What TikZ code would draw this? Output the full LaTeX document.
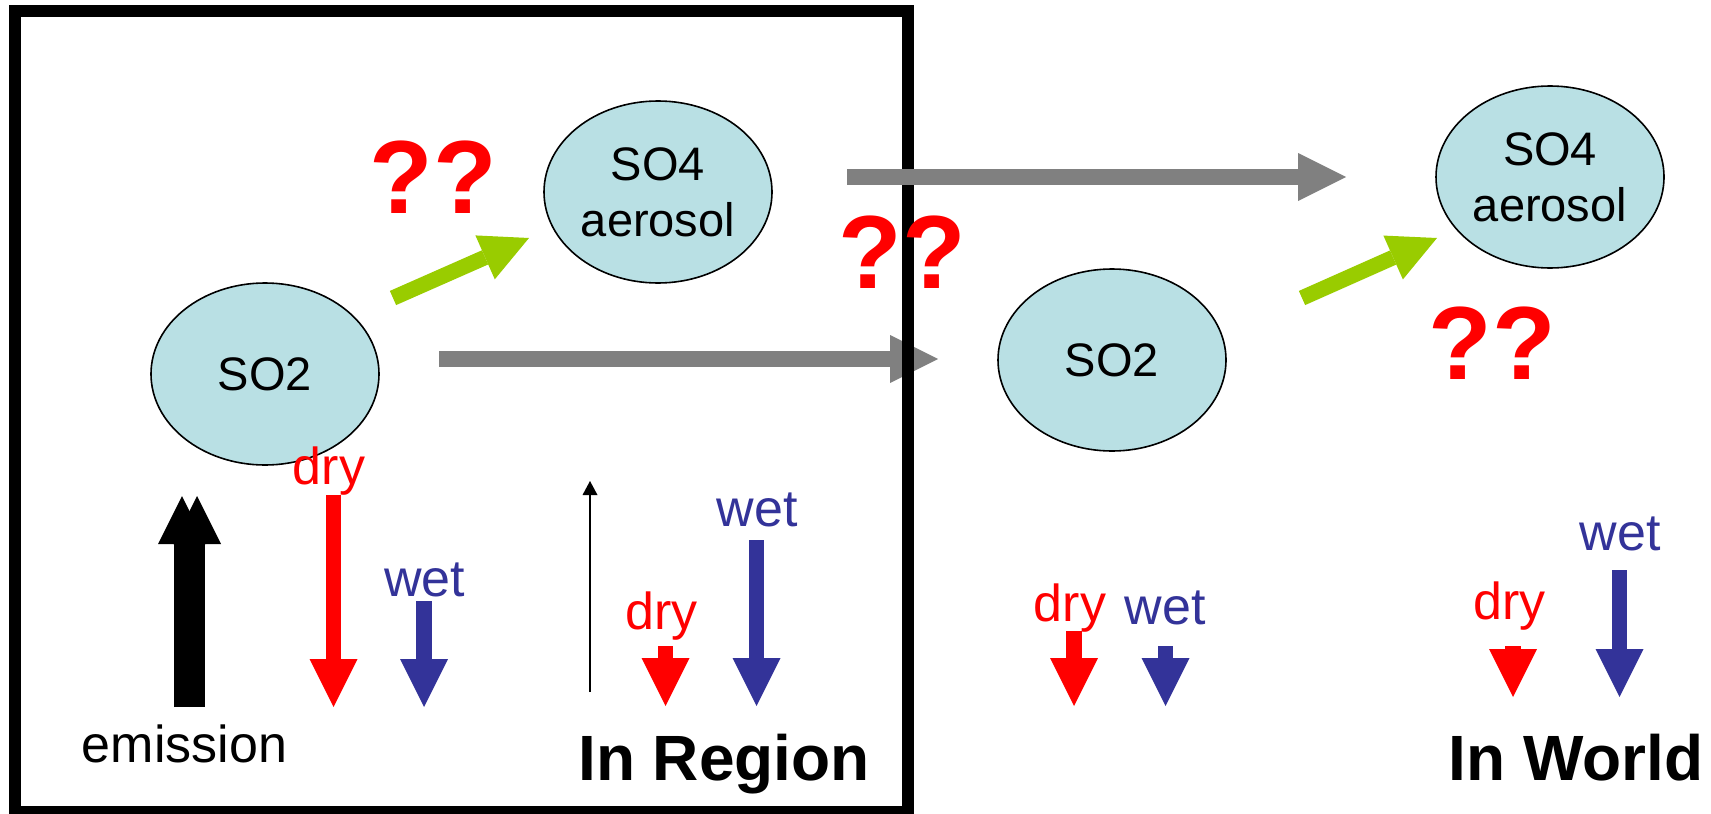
\documentclass[tikz,border=0pt]{standalone}
\usepackage{fontspec}
\setmainfont{Liberation Sans}
\usetikzlibrary{arrows.meta}
\usetikzlibrary{shapes.geometric}

\definecolor{aero}{RGB}{185,224,228}
\definecolor{wetblue}{RGB}{51,51,153}
\definecolor{oxgreen}{RGB}{153,204,0}
\definecolor{flowgray}{RGB}{128,128,128}

\tikzset{
  species/.style={ellipse,draw=black,line width=0.8pt,fill=aero,inner sep=0pt,
    minimum width=114pt,minimum height=91pt,align=center,
    font=\fontsize{23.5}{28}\selectfont},
  flux/.style={line width=7.75pt,-{Triangle[width=24pt,length=24pt,line width=0pt]}},
  fluxlabel/.style={anchor=base,inner sep=0pt,font=\fontsize{26}{30}\selectfont},
  unsure/.style={inner sep=0pt,text=red,font=\fontsize{52}{60}\selectfont\bfseries},
  place/.style={anchor=base,inner sep=0pt,font=\fontsize{32}{38}\selectfont\bfseries}
}

\begin{document}
\begin{tikzpicture}[x=0.5pt,y=-0.5pt]
        \useasboundingbox (0,0) rectangle (1711,813);
        \node[species] (so2reg) at (265,374) {SO2};
        \node[species] (so4reg) at (658,192) {SO4\\aerosol};
        \node[species] (so2wld) at (1112,360) {SO2};
        \node[species] (so4wld) at (1550,177) {SO4\\aerosol};
        % SO2 leaving the region (box is drawn over it)
        \coordinate (out2a) at (439,359);
        \coordinate (out2b) at (938,359);
        \draw[flux,flowgray] (out2a) -- (out2b);
        \draw[line width=6pt] (15,11) rectangle (907.5,812);
        % SO4 leaving the region
        \coordinate (out4a) at (847,177);
        \coordinate (out4b) at (1346,177);
        \draw[flux,flowgray] (out4a) -- (out4b);
        % oxidation SO2 -> SO4
        \coordinate (oxra) at (393,298);
        \coordinate (oxrb) at (529,238);
        \coordinate (oxwa) at (1302,298);
        \coordinate (oxwb) at (1437,238);
        \draw[flux,oxgreen] (oxra) -- (oxrb);
        \draw[flux,oxgreen] (oxwa) -- (oxwb);
        \node[unsure] (qreg) at (433.5,177) {??};
        \node[unsure] (qout) at (902.5,252) {??};
        \node[unsure] (qwld) at (1492.5,343) {??};
        % emission
        \foreach \x in {182,197} {
          \draw[flux,black,line width=8pt] (\x,707) -- (\x,496);
        }
        \node[fluxlabel] (emis) at (184.5,762) {emission};
        \draw[line width=0.7pt,-{Triangle[width=7.5pt,length=7pt,line width=0pt]}]
          (590,692) -- (590,481);
        % deposition
        \foreach \x/\y/\z in {333.5/495/707, 665.5/646/706, 1074/631/706, 1513/646/697} {
          \draw[flux,red] (\x,\y) -- (\x,\z);
        }
        \foreach \x/\y/\z in {424/601/707, 756.5/540/706, 1165.5/646/706, 1619.5/570/697} {
          \draw[flux,wetblue] (\x,\y) -- (\x,\z);
        }
        \foreach \x/\y [count=\i] in {329/484, 661.5/629, 1070/621, 1509.5/619} {
          \node[fluxlabel,text=red] (dry\i) at (\x,\y) {dry};
        }
        \foreach \x/\y [count=\i] in {424.5/596, 757/526, 1165/624, 1620/550} {
          \node[fluxlabel,text=wetblue] (wet\i) at (\x,\y) {wet};
        }
        \node[place] (reg) at (724,780) {In Region};
        \node[place] (wld) at (1576,780) {In World};
\end{tikzpicture}
\end{document}
